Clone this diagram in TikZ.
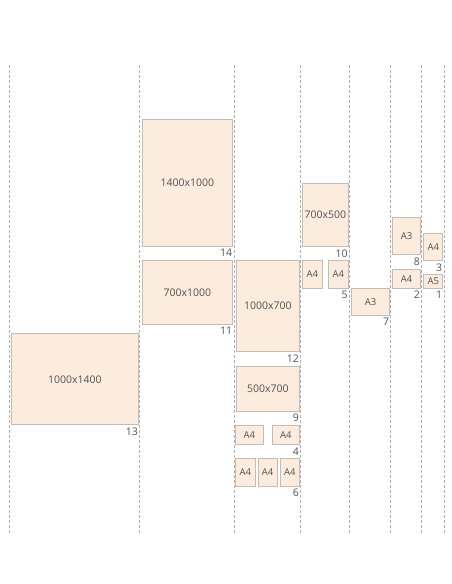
\documentclass[tikz,border=0pt]{standalone}
\usepackage{fontspec}
\setmainfont{Open Sans}
\usepackage{xcolor}
\usepackage{tikz}
\usetikzlibrary{positioning}
\definecolor{paper}{RGB}{252,236,222}
\definecolor{edge}{RGB}{196,188,182}
\definecolor{ink}{RGB}{80,80,80}
\definecolor{guide}{RGB}{175,175,175}

\begin{document}
\begin{tikzpicture}[x=1pt,y=-1pt,
  sheet/.style={draw=edge,fill=paper,line width=0.9pt,inner sep=0pt,anchor=north west,text=ink,font=\fontsize{10.5}{12}\selectfont},
  small/.style={font=\fontsize{9.5}{11}\selectfont},
  num/.style={anchor=north east,inner xsep=0.8pt,inner ysep=2.3pt,text=ink,font=\fontsize{10.5}{12}\selectfont},
  cut/.style={guide,line width=0.6pt,dash pattern=on 3pt off 2pt}]
\useasboundingbox (0,0) rectangle (452,584);
% column guides
\foreach \gx in {9.5,139.5,234,300.5,349.2,390.7,421.3,444}
  \draw[cut] (\gx,65)--(\gx,533);
% column 1
\node[sheet,minimum width=127pt,minimum height=91pt] (s13) at (11,333.3) {1000x1400};
\node[num] (l13) at (s13.south east) {13};
% column 2
\node[sheet,minimum width=90.6pt,minimum height=126.7pt] (s14) at (141.7,119.3) {1400x1000};
\node[num] (l14) at (s14.south east) {14};
\node[sheet,minimum width=90.6pt,minimum height=64pt] (s11) at (141.7,260) {700x1000};
\node[num] (l11) at (s11.south east) {11};
% column 3
\node[sheet,minimum width=63.3pt,minimum height=91pt] (s12) at (235.7,260) {1000x700};
\node[num] (l12) at (s12.south east) {12};
\node[sheet,minimum width=63.3pt,minimum height=45pt] (s9) at (235.7,365.7) {500x700};
\node[num] (l9) at (s9.south east) {9};
\node[sheet,small,minimum width=27.4pt,minimum height=19.3pt] (s4a) at (235.3,425) {A4};
\node[sheet,small,minimum width=27.4pt,minimum height=19.3pt] (s4b) at (271.7,425) {A4};
\node[num] (l4) at (s4b.south east) {4};
\node[sheet,small,minimum width=19.4pt,minimum height=27.4pt] (s6a) at (235.3,458.3) {A4};
\node[sheet,small,minimum width=19.4pt,minimum height=27.4pt] (s6b) at (257.5,458.3) {A4};
\node[sheet,small,minimum width=19.4pt,minimum height=27.4pt] (s6c) at (279.7,458.3) {A4};
\node[num] (l6) at (s6c.south east) {6};
% column 4
\node[sheet,minimum width=45.4pt,minimum height=63.3pt] (s10) at (302.3,182.7) {700x500};
\node[num] (l10) at (s10.south east) {10};
\node[sheet,small,minimum width=19.4pt,minimum height=27.7pt] (s5a) at (302.3,260) {A4};
\node[sheet,small,minimum width=19.4pt,minimum height=27.7pt] (s5b) at (328.3,260) {A4};
\node[num] (l5) at (s5b.south east) {5};
% column 5
\node[sheet,small,minimum width=38.3pt,minimum height=27.3pt] (s7) at (351,287.7) {A3};
\node[num] (l7) at (s7.south east) {7};
% column 6
\node[sheet,small,minimum width=27.7pt,minimum height=37.3pt] (s8) at (392.3,216.7) {A3};
\node[num] (l8) at (s8.south east) {8};
\node[sheet,small,minimum width=27.7pt,minimum height=18.7pt] (s2) at (392.3,269) {A4};
\node[num] (l2) at (s2.south east) {2};
% column 7
\node[sheet,small,minimum width=19pt,minimum height=27.3pt] (s3) at (423.3,232.7) {A4};
\node[num] (l3) at (s3.south east) {3};
\node[sheet,small,minimum width=19pt,minimum height=13.7pt] (s1) at (423.3,274) {A5};
\node[num] (l1) at (s1.south east) {1};
\end{tikzpicture}
\end{document}
